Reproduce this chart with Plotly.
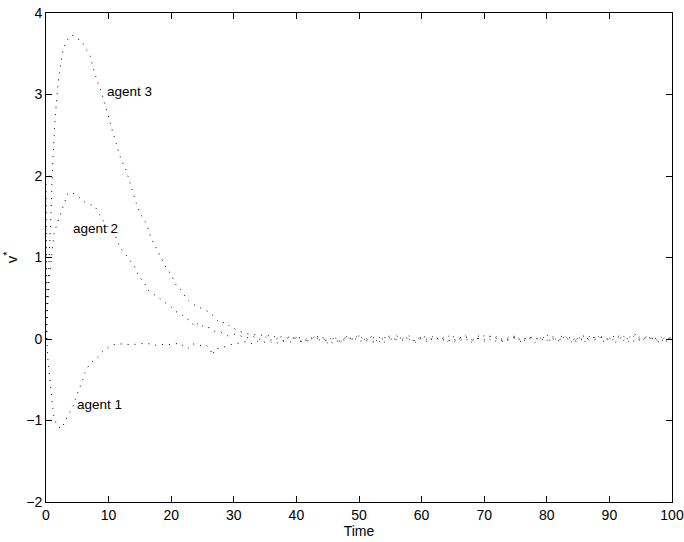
"""
v* of three agents over time, MATLAB-style dotted lines.
"""
import plotly.graph_objects as go

# transient part (time, value)
agent1_t = [0, 0.05, 0.1, 0.15, 0.3, 0.6, 0.9, 1.2, 1.45, 1.8, 2.5, 3.3, 4.3, 4.9, 5.7,
            6.2, 7.0, 7.8, 8.3, 8.8, 9.4, 10.2, 10.7, 12, 13.5, 15, 16, 17, 18, 19, 20,
            21.3, 22.6, 23.5, 24.5, 25.5, 26.2, 26.6, 27, 28, 29, 30]
agent1_v = [1.9, 1.2, 0.5, 0.0, -0.25, -0.5, -0.75, -0.93, -1.0, -1.07, -1.1, -0.97, -0.83,
            -0.69, -0.54, -0.42, -0.3, -0.26, -0.22, -0.17, -0.13, -0.09, -0.07, -0.06,
            -0.07, -0.06, -0.05, -0.07, -0.08, -0.06, -0.07, -0.05, -0.12, -0.06, -0.08,
            -0.07, -0.12, -0.2, -0.12, -0.11, -0.08, -0.06]

agent2_t = [0, 0.2, 0.4, 0.6, 0.9, 1.3, 1.8, 2.2, 2.5, 3.0, 3.3, 3.9, 4.6, 5.4, 6.2, 7.0,
            7.8, 8.6, 9.4, 11.0, 11.8, 12.6, 13.3, 14.1, 14.9, 15.7, 16.5, 17.8, 18.8,
            19.9, 20.7, 21.8, 22.4, 23.2, 23.7, 24.4, 25.3, 26.2, 27, 28, 29, 30]
agent2_v = [0.0, 0.35, 0.6, 0.8, 1.05, 1.3, 1.42, 1.5, 1.56, 1.68, 1.77, 1.8, 1.78, 1.73,
            1.68, 1.65, 1.63, 1.52, 1.42, 1.28, 1.13, 1.05, 0.97, 0.89, 0.76, 0.69, 0.58,
            0.52, 0.46, 0.4, 0.34, 0.29, 0.25, 0.22, 0.15, 0.2, 0.14, 0.14, 0.09, 0.08,
            0.04, 0.06]

agent3_t = [0, 0.3, 0.6, 0.8, 1.0, 1.27, 1.43, 1.7, 1.96, 2.35, 2.75, 3.3, 4.1, 4.6, 5.1,
            5.7, 6.1, 6.7, 7.1, 7.6, 8.2, 8.9, 9.9, 10.7, 12.0, 12.8, 13.6, 14.4, 15.2,
            16.0, 16.8, 17.6, 18.4, 19.2, 20.0, 20.8, 21.6, 22.4, 23.4, 24.7, 25.8, 26.8,
            27.7, 28.8, 29.5, 30.3]
agent3_v = [0.0, 0.55, 1.0, 1.55, 2.03, 2.48, 2.69, 2.93, 3.16, 3.38, 3.55, 3.66, 3.73,
            3.71, 3.68, 3.66, 3.6, 3.53, 3.46, 3.31, 3.16, 3.02, 2.73, 2.53, 2.2, 2.07,
            1.87, 1.67, 1.52, 1.42, 1.24, 1.12, 0.99, 0.87, 0.79, 0.66, 0.6, 0.5, 0.43,
            0.38, 0.34, 0.28, 0.2, 0.2, 0.14, 0.12]

# steady-state noise around zero, t = 31..100
tail_t = list(range(31, 101))
agent1_tail = [-0.05, -0.03, -0.06, -0.02, -0.04, -0.01, -0.05, -0.02, -0.04, 0.02,
               -0.04, -0.02, 0.03, -0.03, -0.01, -0.06, 0.00, -0.02, 0.03, -0.04,
               0.01, -0.03, -0.05, 0.02, -0.01, 0.04, -0.02, 0.00, -0.04, 0.03,
               -0.01, 0.04, -0.03, 0.01, -0.05, 0.02, 0.00, -0.03, 0.04, -0.01,
               0.03, -0.04, 0.01, -0.02, 0.04, -0.02, 0.03, -0.05, 0.01, -0.02,
               0.03, -0.03, 0.04, 0.00, -0.04, 0.02, -0.01, 0.05, -0.03, 0.01,
               -0.04, 0.03, 0.00, -0.03, 0.04, -0.01, 0.02, -0.04, 0.01, 0.00]
agent2_tail = [0.04, 0.01, 0.04, -0.01, 0.03, -0.04, 0.01, -0.03, 0.04, 0.00,
               -0.04, 0.03, -0.01, 0.04, -0.05, 0.01, -0.03, 0.03, -0.01, 0.05,
               -0.03, 0.01, 0.04, -0.04, 0.02, -0.01, 0.00, 0.04, -0.03, 0.01,
               -0.04, 0.03, -0.01, 0.05, 0.00, -0.03, 0.03, -0.04, 0.01, 0.04,
               -0.01, 0.03, -0.03, 0.00, 0.04, -0.04, 0.01, 0.03, -0.03, 0.05,
               0.00, -0.01, 0.03, -0.04, 0.01, 0.04, -0.03, 0.00, 0.03, -0.01,
               0.05, -0.03, 0.01, 0.07, -0.04, 0.03, -0.01, 0.04, -0.03, 0.01]
agent3_tail = [0.09, 0.07, 0.05, 0.06, 0.03, 0.05, 0.01, 0.04, -0.01, 0.03,
               0.00, -0.03, 0.04, 0.01, -0.02, 0.03, -0.04, 0.03, 0.00, 0.04,
               -0.01, 0.03, -0.03, 0.01, 0.04, -0.02, 0.03, 0.00, -0.03, 0.04,
               0.01, -0.02, 0.03, -0.04, 0.03, 0.00, 0.04, -0.01, 0.01, -0.03,
               0.04, 0.00, -0.03, 0.03, 0.01, -0.04, 0.04, -0.01, 0.03, 0.00,
               -0.03, 0.04, 0.01, -0.02, 0.03, -0.04, 0.05, 0.00, 0.03, -0.03,
               0.01, 0.06, -0.03, 0.04, -0.01, 0.03, 0.00, -0.04, 0.03, 0.01]

labels = ['agent 1', 'agent 2', 'agent 3']
label_x = [4.6, 4.0, 9.5]
label_y = [-0.8, 1.35, 3.04]

series = [
    (agent1_t, agent1_v, agent1_tail),
    (agent2_t, agent2_v, agent2_tail),
    (agent3_t, agent3_v, agent3_tail),
]

font = 'Liberation Sans, Arial, Helvetica, sans-serif'

fig = go.Figure()
for (t, v, tail), name in zip(series, labels):
    fig.add_trace(go.Scatter(
        x=t + tail_t,
        y=v + tail,
        mode='lines',
        name=name,
        line=dict(color='black', width=1, dash='1px,6px'),
        showlegend=False,
    ))

for name, x, y in zip(labels, label_x, label_y):
    fig.add_annotation(x=x, y=y, text=name, showarrow=False, xanchor='left',
                       yanchor='middle', font=dict(size=13.5, color='black', family=font))

axis_style = dict(
    showline=True, linecolor='black', linewidth=1, mirror='ticks',
    ticks='inside', ticklen=6, tickcolor='black', tickwidth=1,
    showgrid=False, zeroline=False, automargin=False,
    ticklabeloverflow='allow',
    tickfont=dict(size=14, color='black', family=font),
)

fig.update_layout(
    width=684, height=542,
    margin=dict(l=46, r=12, t=13, b=40),
    paper_bgcolor='white', plot_bgcolor='white',
    font=dict(family=font, color='black', size=14),
    xaxis=dict(range=[0, 100], tickvals=list(range(0, 101, 10)),
               title=dict(text='Time', standoff=1, font=dict(size=14)), **axis_style),
    yaxis=dict(range=[-2, 4], tickvals=list(range(-2, 5)),
               title=dict(text='v<sup>*</sup>', standoff=4, font=dict(size=15)), **axis_style),
)

# drop the default 8px page margin so the figure fills the window
fig.write_html("out.html", config={'displayModeBar': False},
               post_script="document.body.style.margin = '0';")
